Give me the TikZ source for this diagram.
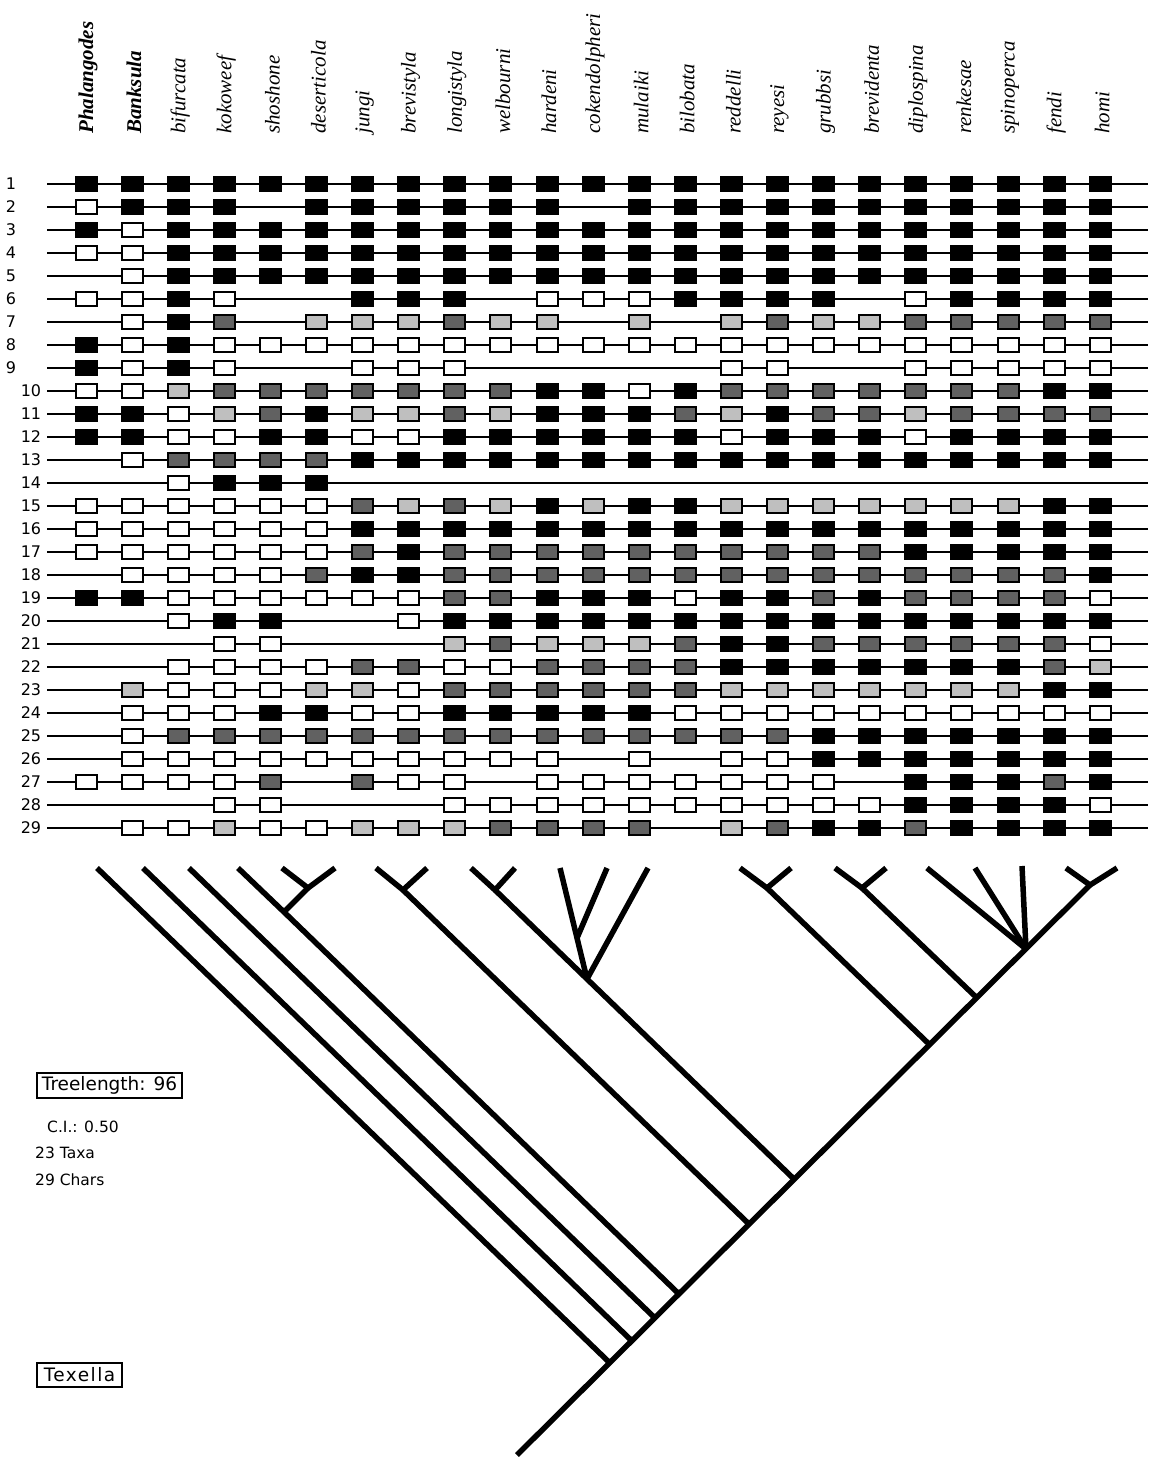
\documentclass[tikz,border=0pt]{standalone}
\usepackage{fontspec}
\setmainfont{Liberation Serif}
\newfontfamily\sysfont{DejaVu Sans}
\tikzset{
  cellbase/.style={inner sep=0pt, minimum width=21pt, minimum height=14pt, line width=2pt, draw=black},
  cellB/.style={cellbase, fill=black},
  cellW/.style={cellbase, fill=white},
  cellL/.style={cellbase, fill=black!25},
  cellD/.style={cellbase, fill=black!62},
  rowline/.style={line width=1.8pt},
  branch/.style={line width=5.5pt, line cap=butt, line join=round},
  taxon/.style={rotate=90, anchor=west, inner sep=0pt, font=\fontsize{21}{24}\selectfont\itshape},
  rownum/.style={font=\sysfont\fontsize{16}{18}\selectfont, inner sep=0pt},
  infotext/.style={font=\sysfont\fontsize{15.5}{18}\selectfont, inner sep=0pt, anchor=west},
  boxtext/.style={draw, line width=1.5pt, inner sep=0pt, font=\sysfont\fontsize{18.5}{20}\selectfont},
}
\newcommand\drawcellB[3]{\node[cellB] (#1) at (#2,#3) {};}
\newcommand\drawcellW[3]{\node[cellW] (#1) at (#2,#3) {};}
\newcommand\drawcellL[3]{\node[cellL] (#1) at (#2,#3) {};}
\newcommand\drawcellD[3]{\node[cellD] (#1) at (#2,#3) {};}
\newcommand\drawcellN[3]{}
\newcommand\cellrow[2]{%
  \foreach \code [count=\ci] in {#2} {%
    \csname drawcell\code\endcsname{c#1-\ci}{{86+46.1*(\ci-1)}}{{184+23*(#1-1)}}%
  }%
}
\begin{document}
\begin{tikzpicture}[x=1pt,y=-1pt]
\useasboundingbox (0,0) rectangle (1159,1458);
% taxon labels
\node[taxon, font=\fontsize{21}{24}\selectfont\bfseries\itshape] (lab1) at (88,134) {Phalangodes};
\node[taxon, font=\fontsize{21}{24}\selectfont\bfseries\itshape] (lab2) at (134,134) {Banksula};
\foreach \nm [count=\i from 3] in {bifurcata,kokoweef,shoshone,deserticola,jungi,brevistyla,longistyla,welbourni,hardeni,cokendolpheri,mulaiki,bilobata,reddelli,reyesi,grubbsi,brevidenta,diplospina,renkesae,spinoperca,fendi,homi} {
  \node[taxon] (lab\i) at ({88+46.1*(\i-1)},134) {\nm};
}
% row lines and numbers
\foreach \r in {1,...,29} {
  \coordinate (rs\r) at (47,{184+23*(\r-1)});
  \coordinate (re\r) at (1148,{184+23*(\r-1)});
  \draw[rowline] (rs\r) -- (re\r);
  \ifnum\r<10
    \node[rownum] (n\r) at (11,{184+23*(\r-1)}) {\r};
  \else
    \node[rownum] (n\r) at (31,{184+23*(\r-1)}) {\r};
  \fi
}
% character matrix
\cellrow{1}{B,B,B,B,B,B,B,B,B,B,B,B,B,B,B,B,B,B,B,B,B,B,B}
\cellrow{2}{W,B,B,B,N,B,B,B,B,B,B,N,B,B,B,B,B,B,B,B,B,B,B}
\cellrow{3}{B,W,B,B,B,B,B,B,B,B,B,B,B,B,B,B,B,B,B,B,B,B,B}
\cellrow{4}{W,W,B,B,B,B,B,B,B,B,B,B,B,B,B,B,B,B,B,B,B,B,B}
\cellrow{5}{N,W,B,B,B,B,B,B,B,B,B,B,B,B,B,B,B,B,B,B,B,B,B}
\cellrow{6}{W,W,B,W,N,N,B,B,B,N,W,W,W,B,B,B,B,N,W,B,B,B,B}
\cellrow{7}{N,W,B,D,N,L,L,L,D,L,L,N,L,N,L,D,L,L,D,D,D,D,D}
\cellrow{8}{B,W,B,W,W,W,W,W,W,W,W,W,W,W,W,W,W,W,W,W,W,W,W}
\cellrow{9}{B,W,B,W,N,N,W,W,W,N,N,N,N,N,W,W,N,N,W,W,W,W,W}
\cellrow{10}{W,W,L,D,D,D,D,D,D,D,B,B,W,B,D,D,D,D,D,D,D,B,B}
\cellrow{11}{B,B,W,L,D,B,L,L,D,L,B,B,B,D,L,B,D,D,L,D,D,D,D}
\cellrow{12}{B,B,W,W,B,B,W,W,B,B,B,B,B,B,W,B,B,B,W,B,B,B,B}
\cellrow{13}{N,W,D,D,D,D,B,B,B,B,B,B,B,B,B,B,B,B,B,B,B,B,B}
\cellrow{14}{N,N,W,B,B,B,N,N,N,N,N,N,N,N,N,N,N,N,N,N,N,N,N}
\cellrow{15}{W,W,W,W,W,W,D,L,D,L,B,L,B,B,L,L,L,L,L,L,L,B,B}
\cellrow{16}{W,W,W,W,W,W,B,B,B,B,B,B,B,B,B,B,B,B,B,B,B,B,B}
\cellrow{17}{W,W,W,W,W,W,D,B,D,D,D,D,D,D,D,D,D,D,B,B,B,B,B}
\cellrow{18}{N,W,W,W,W,D,B,B,D,D,D,D,D,D,D,D,D,D,D,D,D,D,B}
\cellrow{19}{B,B,W,W,W,W,W,W,D,D,B,B,B,W,B,B,D,B,D,D,D,D,W}
\cellrow{20}{N,N,W,B,B,N,N,W,B,B,B,B,B,B,B,B,B,B,B,B,B,B,B}
\cellrow{21}{N,N,N,W,W,N,N,N,L,D,L,L,L,D,B,B,D,D,D,D,D,D,W}
\cellrow{22}{N,N,W,W,W,W,D,D,W,W,D,D,D,D,B,B,B,B,B,B,B,D,L}
\cellrow{23}{N,L,W,W,W,L,L,W,D,D,D,D,D,D,L,L,L,L,L,L,L,B,B}
\cellrow{24}{N,W,W,W,B,B,W,W,B,B,B,B,B,W,W,W,W,W,W,W,W,W,W}
\cellrow{25}{N,W,D,D,D,D,D,D,D,D,D,D,D,D,D,D,B,B,B,B,B,B,B}
\cellrow{26}{N,W,W,W,W,W,W,W,W,W,W,N,W,N,W,W,B,B,B,B,B,B,B}
\cellrow{27}{W,W,W,W,D,N,D,W,W,N,W,W,W,W,W,W,W,N,B,B,B,D,B}
\cellrow{28}{N,N,N,W,W,N,N,N,W,W,W,W,W,W,W,W,W,W,B,B,B,B,W}
\cellrow{29}{N,W,W,L,W,W,L,L,L,D,D,D,D,N,L,D,B,B,D,B,B,B,B}
% cladogram
\coordinate (R) at (517,1455);
\coordinate (s1) at (611,1364);
\coordinate (s2) at (633,1342);
\coordinate (s3) at (656,1319);
\coordinate (s4) at (680,1295);
\coordinate (s5) at (750,1225);
\coordinate (s6) at (795,1180);
\coordinate (s7) at (930,1045);
\coordinate (s8) at (977,998);
\coordinate (P) at (1026,949);
\coordinate (F) at (1090,885);
\coordinate (K) at (284,912);
\coordinate (Sd) at (308,888);
\coordinate (J) at (403,890);
\coordinate (Lw) at (495,890);
\coordinate (N) at (587,979);
\coordinate (H) at (577,938);
\coordinate (Q) at (767,888);
\coordinate (G) at (862,888);
\coordinate (t1) at (97,868);
\coordinate (t2) at (143,868);
\coordinate (t3) at (189,868);
\coordinate (t4) at (238,868);
\coordinate (t5) at (282,868);
\coordinate (t6) at (335,868);
\coordinate (t7) at (376,868);
\coordinate (t8) at (427,868);
\coordinate (t9) at (471,868);
\coordinate (t10) at (515,868);
\coordinate (t11) at (560,868);
\coordinate (t12) at (607,868);
\coordinate (t13) at (648,868);
\coordinate (t15) at (740,868);
\coordinate (t16) at (791,868);
\coordinate (t17) at (835,868);
\coordinate (t18) at (886,868);
\coordinate (t19) at (927,868);
\coordinate (t20) at (975,868);
\coordinate (t21) at (1022,866);
\coordinate (t22) at (1066,868);
\coordinate (t23) at (1117,868);
\draw[branch] (R) -- (F);
\draw[branch] (t1) -- (s1);
\draw[branch] (t2) -- (s2);
\draw[branch] (t3) -- (s3);
\draw[branch] (t4) -- (K) -- (s4);
\draw[branch] (t5) -- (Sd) -- (t6);
\draw[branch] (Sd) -- (K);
\draw[branch] (t7) -- (J) -- (t8);
\draw[branch] (J) -- (s5);
\draw[branch] (t9) -- (Lw) -- (t10);
\draw[branch] (Lw) -- (N) -- (s6);
\draw[branch] (t11) -- (H) -- (N);
\draw[branch] (t12) -- (H);
\draw[branch] (t13) -- (N);
\draw[branch] (t15) -- (Q) -- (t16);
\draw[branch] (Q) -- (s7);
\draw[branch] (t17) -- (G) -- (t18);
\draw[branch] (G) -- (s8);
\draw[branch] (t19) -- (P);
\draw[branch] (t20) -- (P);
\draw[branch] (t21) -- (P);
\draw[branch] (t22) -- (F) -- (t23);
% info texts
\node[boxtext, minimum width=145pt, minimum height=25pt] (tl) at (109.5,1085.5) {Treelength: 96};
\node[infotext] (ci) at (47,1127) {C.I.: 0.50};
\node[infotext] (tx) at (35,1153) {23 Taxa};
\node[infotext] (ch) at (35,1180) {29 Chars};
\node[boxtext, minimum width=85pt, minimum height=24pt] (tex) at (79.5,1375) {\addfontfeature{LetterSpace=8}Texella};
\end{tikzpicture}
\end{document}
